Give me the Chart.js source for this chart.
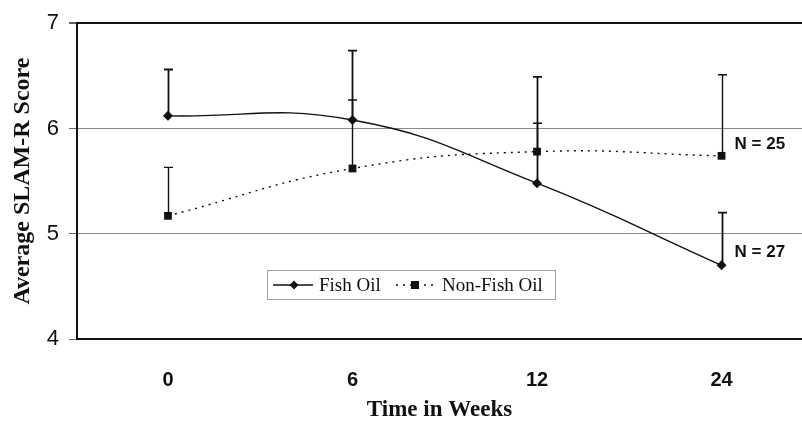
<!DOCTYPE html>
<html>
<head>
<meta charset="utf-8">
<script src="https://cdn.jsdelivr.net/npm/chart.js@4.4.0/dist/chart.umd.min.js"></script>
<style>
  html, body { margin: 0; padding: 0; background: #fff; overflow: hidden; }
  #wrap { width: 802px; height: 426px; position: relative; }
</style>
</head>
<body>
<div id="wrap"><canvas id="c" width="802" height="426"></canvas></div>
<script>
// ---- data ----
const weeks = ['0', '6', '12', '24'];
const fishOil = [6.12, 6.08, 5.48, 4.70];
const fishOilUpper = [6.56, 6.74, 6.49, 5.20];
const nonFishOil = [5.17, 5.62, 5.78, 5.74];
const nonFishOilUpper = [5.63, 6.27, 6.05, 6.51];
const yTicks = [4, 5, 6, 7];
const seriesNames = ['Fish Oil', 'Non-Fish Oil'];
const nLabels = ['N = 27', 'N = 25'];

const toPts = arr => arr.map((v, i) => ({ x: i, y: v }));

const errorBars = {
  id: 'errorBars',
  beforeDatasetsDraw(chart) {
    const { ctx, scales: { x, y } } = chart;
    const uppers = [fishOilUpper, nonFishOilUpper];
    const means = [fishOil, nonFishOil];
    ctx.save();
    ctx.strokeStyle = '#111';
    uppers.forEach((up, s) => {
      ctx.lineWidth = s === 0 ? 1.8 : 1.4;
      up.forEach((u, i) => {
        const px = Math.round(x.getPixelForValue(i)) + 0.5;
        const p0 = y.getPixelForValue(means[s][i]);
        const p1 = y.getPixelForValue(u);
        ctx.beginPath();
        ctx.moveTo(px, p0);
        ctx.lineTo(px, p1);
        ctx.moveTo(px - 4.5, p1);
        ctx.lineTo(px + 4.5, p1);
        ctx.stroke();
      });
    });
    ctx.restore();
  },
  afterDatasetsDraw(chart) {
    const { ctx, scales: { x, y } } = chart;
    ctx.save();
    // N labels next to last points
    ctx.fillStyle = '#111';
    ctx.font = 'bold 17px "Liberation Sans", Arial, sans-serif';
    ctx.textAlign = 'left';
    ctx.textBaseline = 'middle';
    const last = weeks.length - 1;
    const lx = x.getPixelForValue(last) + 13;
    ctx.fillText(nLabels[0], lx, y.getPixelForValue(fishOil[last]) - 13);
    ctx.fillText(nLabels[1], lx, y.getPixelForValue(nonFishOil[last]) - 12);

    // legend box
    const bx = 267, by = 270, bw = 288, bh = 29;
    ctx.strokeStyle = '#a0a0a0';
    ctx.lineWidth = 1;
    ctx.strokeRect(bx + 0.5, by + 0.5, bw, bh);
    const cy = by + 15;
    // fish oil sample
    ctx.strokeStyle = '#111';
    ctx.lineWidth = 1.4;
    ctx.beginPath(); ctx.moveTo(273, cy); ctx.lineTo(313, cy); ctx.stroke();
    ctx.fillStyle = '#111';
    ctx.beginPath();
    ctx.moveTo(294, cy - 4.5); ctx.lineTo(298.5, cy); ctx.lineTo(294, cy + 4.5); ctx.lineTo(289.5, cy);
    ctx.closePath(); ctx.fill();
    ctx.font = '19px "Liberation Serif", "Times New Roman", serif';
    ctx.fillText(seriesNames[0], 319, cy + 1);
    // non fish sample
    ctx.setLineDash([2, 5]);
    ctx.lineWidth = 1.4;
    ctx.beginPath(); ctx.moveTo(396, cy); ctx.lineTo(437, cy); ctx.stroke();
    ctx.setLineDash([]);
    ctx.fillRect(411, cy - 4, 8, 8);
    ctx.fillText(seriesNames[1], 442, cy + 1);
    ctx.restore();
  }
};

new Chart(document.getElementById('c'), {
  type: 'line',
  data: {
    datasets: [
      {
        label: seriesNames[0],
        data: toPts(fishOil),
        borderColor: '#111',
        backgroundColor: '#111',
        borderWidth: 1.4,
        tension: 0.45,
        pointStyle: 'rectRot',
        pointRadius: 5,
        pointBorderWidth: 0,
        fill: false
      },
      {
        label: seriesNames[1],
        data: toPts(nonFishOil),
        borderColor: '#111',
        backgroundColor: '#111',
        borderWidth: 1.4,
        borderDash: [2, 5],
        tension: 0.45,
        pointStyle: 'rect',
        pointRadius: 5.5,
        pointBorderWidth: 0,
        fill: false
      }
    ]
  },
  options: {
    responsive: false,
    animation: false,
    clip: false,
    layout: { autoPadding: false, padding: { top: 20, right: 0, left: 0, bottom: 0 } },
    plugins: { legend: { display: false }, tooltip: { enabled: false } },
    scales: {
      x: {
        type: 'linear',
        min: -0.493,
        max: 3.436,
        afterBuildTicks(s) { s.ticks = weeks.map((w, i) => ({ value: i })); },
        afterFit(s) { s.height = 87; },
        ticks: {
          callback: (v) => weeks[v] !== undefined ? weeks[v] : '',
          color: '#111',
          padding: 29,
          maxRotation: 0,
          autoSkip: false,
          font: { family: '"Liberation Sans", Arial, sans-serif', size: 20, weight: 'bold' }
        },
        grid: { display: false, drawTicks: false },
        border: { display: true, color: '#111', width: 2 },
        title: {
          display: true,
          text: 'Time in Weeks',
          color: '#111',
          padding: { top: 0, bottom: 2 },
          font: { family: '"Liberation Serif", "Times New Roman", serif', size: 23, weight: 'bold' }
        }
      },
      y: {
        min: 4,
        max: 7,
        afterBuildTicks(s) { s.ticks = yTicks.map(v => ({ value: v })); },
        afterFit(s) { s.width = 77; },
        ticks: {
          color: '#111',
          padding: 10,
          font: { family: '"Liberation Sans", Arial, sans-serif', size: 22 }
        },
        grid: {
          drawTicks: true,
          tickLength: 8,
          tickColor: '#666',
          lineWidth: (c) => (c.tick && c.tick.value === 7) ? 2 : 1,
          color: (c) => {
            if (!c.tick) return '#888';
            if (c.tick.value === 7) return '#111';
            if (c.tick.value === 4) return 'rgba(0,0,0,0)';
            return '#8a8a8a';
          }
        },
        border: { display: true, color: '#111', width: 2 },
        title: {
          display: true,
          text: 'Average SLAM-R Score',
          color: '#111',
          padding: { top: 8, bottom: 0 },
          font: { family: '"Liberation Serif", "Times New Roman", serif', size: 24, weight: 'bold' }
        }
      }
    }
  },
  plugins: [errorBars]
});
</script>
</body>
</html>
